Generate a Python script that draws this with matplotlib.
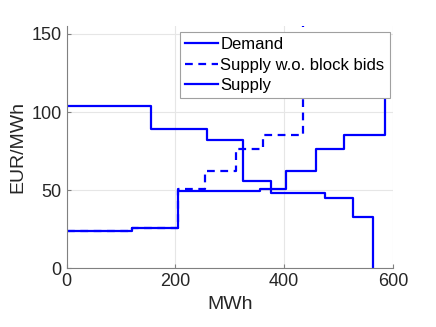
import matplotlib.pyplot as plt

plt.rcParams['font.family'] = ['Liberation Sans', 'DejaVu Sans']

# Nachfrage- und Angebotskurven (MWh, EUR/MWh)
demand_q = [0, 155, 258, 324, 375, 475, 527, 563, 563]
demand_p = [104, 89, 82, 56, 48, 45, 33, 33, 0]

supply_nb_q = [0, 120, 205, 254, 311, 361, 434, 434]
supply_nb_p = [24, 26, 51, 62, 76, 85, 85, 170]

supply_q = [0, 120, 205, 355, 404, 459, 511, 585, 585]
supply_p = [24, 26, 49.5, 51, 62, 76, 85, 85, 130]

fig = plt.figure(figsize=(4.36, 3.27), dpi=100)
ax = fig.add_axes([0.153, 0.180, 0.748, 0.740])

ax.step(demand_q, demand_p, where='post', color='blue', lw=1.6, label='Demand')
ax.step(supply_nb_q, supply_nb_p, where='post', color='blue', lw=1.6,
        ls=(0, (3.5, 2.5)), label='Supply w.o. block bids')
ax.step(supply_q, supply_p, where='post', color='blue', lw=1.6, label='Supply')

ax.set_xlim(0, 600)
ax.set_ylim(0, 155)
ax.set_xticks([0, 200, 400, 600])
ax.set_yticks([0, 50, 100, 150])
ax.grid(True, color='#e6e6e6', lw=0.8)
ax.set_axisbelow(True)

for s in ['top', 'right']:
    ax.spines[s].set_visible(False)
for s in ['left', 'bottom']:
    ax.spines[s].set_color('#808080')
    ax.spines[s].set_linewidth(0.8)
ax.tick_params(direction='in', length=3, color='#808080', labelsize=13,
               labelcolor='#262626')

ax.set_xlabel('MWh', fontsize=14, color='#262626', labelpad=4)
ax.set_ylabel('EUR/MWh', fontsize=14, color='#262626', labelpad=4)

leg = ax.legend(loc='upper right', bbox_to_anchor=(0.99, 0.975), fontsize=12,
                handlelength=2.0, handletextpad=0.15, borderpad=0.3,
                labelspacing=0.32, fancybox=False, framealpha=1,
                borderaxespad=0)
leg.get_frame().set_edgecolor('#a0a0a0')
leg.get_frame().set_linewidth(0.8)

fig.savefig('out.png', dpi=100)
